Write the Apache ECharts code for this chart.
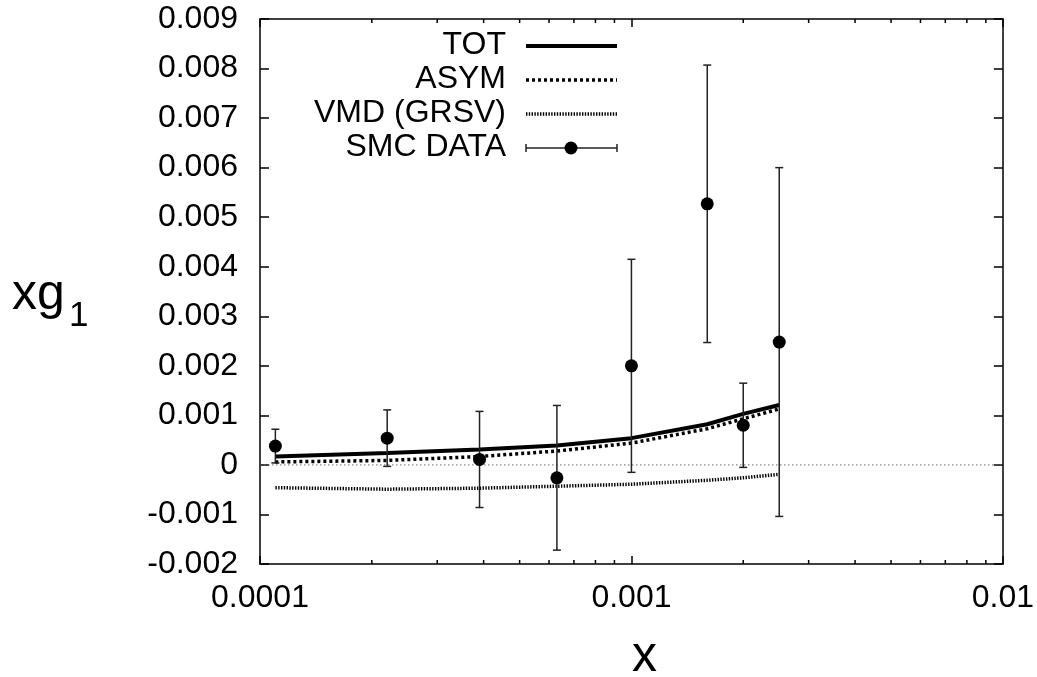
<!DOCTYPE html>
<html>
<head>
<meta charset="utf-8">
<script src="https://cdn.jsdelivr.net/npm/echarts@6/dist/echarts.min.js"></script>
<style>
html,body{margin:0;padding:0;background:#fff;}
#chart{width:1037px;height:677px;}
</style>
</head>
<body>
<div id="chart"></div>
<script>
// ---- data ----
var curveX = [1.1e-4, 2.2e-4, 3.9e-4, 6.3e-4, 1.0e-3, 1.6e-3, 2.0e-3, 2.5e-3];
var totY   = [0.00017, 0.00024, 0.00031, 0.00039, 0.00054, 0.00082, 0.00103, 0.00121];
var asymY  = [0.00006, 0.00009, 0.00017, 0.00028, 0.00044, 0.00073, 0.00093, 0.00113];
var vmdY   = [-0.00046, -0.00049, -0.00047, -0.00043, -0.00039, -0.00031, -0.00026, -0.00019];
var smcX   = [1.1e-4, 2.2e-4, 3.9e-4, 6.3e-4, 1.0e-3, 1.6e-3, 2.0e-3, 2.5e-3];
var smcY   = [0.00038, 0.00054, 0.00011, -0.00026, 0.0020, 0.00527, 0.00080, 0.00248];
var smcErr = [0.00034, 0.00057, 0.00097, 0.00146, 0.00215, 0.0028, 0.00085, 0.00352];
var minorTicks = [2e-4,3e-4,4e-4,5e-4,6e-4,7e-4,8e-4,9e-4,2e-3,3e-3,4e-3,5e-3,6e-3,7e-3,8e-3,9e-3];
var legendNames = ['TOT', 'ASYM', 'VMD (GRSV)', 'SMC DATA'];
var xMin = 1e-4, xMax = 1e-2, yMin = -0.002, yMax = 0.009, yStep = 0.001;

function pairs(xs, ys){ return xs.map(function(x,i){ return [x, ys[i]]; }); }

var FONT = "'Liberation Sans', Arial, sans-serif";
var chart = echarts.init(document.getElementById('chart'), null, {renderer:'canvas'});

var lineStyles = [
  {type:'solid', width:4},
  {type:[3,3], width:3.5},
  {type:[1.4,1.4], width:3.5}
];

var legendY = [45, 79, 113, 147];
var graphics = [];
legendNames.forEach(function(n, i){
  graphics.push({type:'text', right: 1037-506, top: legendY[i]-16,
    style:{text:n, font:'32px '+FONT, fill:'#000', align:'right'}});
});
for (var i=0;i<3;i++){
  graphics.push({type:'line', shape:{x1:526,y1:legendY[i]+1,x2:617,y2:legendY[i]+1},
    style:{stroke:'#000', lineWidth:lineStyles[i].width, lineDash: lineStyles[i].type==='solid'?null:lineStyles[i].type}});
}
graphics.push({type:'line', shape:{x1:526,y1:legendY[3]+1,x2:617,y2:legendY[3]+1}, style:{stroke:'#222',lineWidth:1.5}});
graphics.push({type:'line', shape:{x1:526,y1:legendY[3]-3,x2:526,y2:legendY[3]+5}, style:{stroke:'#222',lineWidth:1.5}});
graphics.push({type:'line', shape:{x1:617,y1:legendY[3]-3,x2:617,y2:legendY[3]+5}, style:{stroke:'#222',lineWidth:1.5}});
graphics.push({type:'circle', shape:{cx:571,cy:legendY[3]+1,r:6.5}, style:{fill:'#000'}});
// axis titles
graphics.push({type:'text', left:12, top:270, style:{text:'xg', font:'50px '+FONT, fill:'#000'}});
graphics.push({type:'text', left:69, top:299, style:{text:'1', font:'35px '+FONT, fill:'#000'}});
graphics.push({type:'text', left:632, top:632, style:{text:'x', font:'50px '+FONT, fill:'#000', align:'center'}});

var axisLineStyle = {color:'#000', width:1.5};

var option = {
  animation:false,
  backgroundColor:'#fff',
  grid:{left:260, right:33, top:19, bottom:113, containLabel:false},
  xAxis:[
    {type:'log', logBase:10, min:xMin, max:xMax, position:'bottom',
     axisLine:{show:true, onZero:false, lineStyle:axisLineStyle},
     axisTick:{show:true, inside:true, length:8, lineStyle:{color:'#000', width:1.5}},
     splitLine:{show:false},
     axisLabel:{color:'#000', fontSize:32, fontFamily:FONT, margin:18,
       formatter:function(v){ return String(+v.toPrecision(1)); }}},
    {type:'log', logBase:10, min:xMin, max:xMax, position:'top',
     axisLine:{show:true, onZero:false, lineStyle:axisLineStyle},
     axisTick:{show:true, inside:true, length:8, lineStyle:{color:'#000', width:1.5}},
     splitLine:{show:false}, axisLabel:{show:false}}
  ],
  yAxis:[
    {type:'value', min:yMin, max:yMax, interval:yStep, position:'left',
     axisLine:{show:true, onZero:false, lineStyle:axisLineStyle},
     axisTick:{show:true, inside:true, length:9, lineStyle:{color:'#000', width:1.5}},
     splitLine:{show:false},
     axisLabel:{color:'#000', fontSize:32, fontFamily:FONT, margin:22,
       formatter:function(v){ var r = Math.round(v*1000)/1000; return r===0 ? '0' : r.toFixed(3); }}},
    {type:'value', min:yMin, max:yMax, interval:yStep, position:'right',
     axisLine:{show:true, onZero:false, lineStyle:axisLineStyle},
     axisTick:{show:true, inside:true, length:9, lineStyle:{color:'#000', width:1.5}},
     splitLine:{show:false}, axisLabel:{show:false}}
  ],
  graphic: graphics,
  series:[
    {type:'custom', name:'minorTicks', xAxisIndex:0, yAxisIndex:0, silent:true,
     data: minorTicks.map(function(x){ return [x]; }),
     renderItem:function(params, api){
       var b = api.coord([api.value(0), yMin]);
       var t = api.coord([api.value(0), yMax]);
       return {type:'group', children:[
         {type:'line', shape:{x1:b[0],y1:b[1],x2:b[0],y2:b[1]-4}, style:{stroke:'#000',lineWidth:1.5}},
         {type:'line', shape:{x1:t[0],y1:t[1],x2:t[0],y2:t[1]+4}, style:{stroke:'#000',lineWidth:1.5}}
       ]};
     }},
    {type:'custom', name:'zeroLine', silent:true, z:1,
     data:[[xMin, 0, xMax]],
     renderItem:function(params, api){
       var a = api.coord([api.value(0), api.value(1)]);
       var b = api.coord([api.value(2), api.value(1)]);
       return {type:'line', shape:{x1:a[0],y1:a[1],x2:b[0],y2:b[1]},
         style:{stroke:'#666', lineWidth:1, lineDash:[1.5,2.5]}};
     }},
    {type:'line', name:'TOT', data:pairs(curveX, totY), showSymbol:false, symbol:'none', z:3,
     lineStyle:{color:'#000', width:lineStyles[0].width, type:'solid'}},
    {type:'line', name:'ASYM', data:pairs(curveX, asymY), showSymbol:false, symbol:'none', z:3,
     lineStyle:{color:'#000', width:lineStyles[1].width, type:lineStyles[1].type}},
    {type:'line', name:'VMD (GRSV)', data:pairs(curveX, vmdY), showSymbol:false, symbol:'none', z:3,
     lineStyle:{color:'#000', width:lineStyles[2].width, type:lineStyles[2].type}},
    {type:'custom', name:'SMC err', silent:true, z:4,
     data: smcX.map(function(x,i){ return [x, smcY[i]-smcErr[i], smcY[i]+smcErr[i]]; }),
     renderItem:function(params, api){
       var lo = api.coord([api.value(0), api.value(1)]);
       var hi = api.coord([api.value(0), api.value(2)]);
       var s = {stroke:'#222', lineWidth:1.5};
       return {type:'group', children:[
         {type:'line', shape:{x1:lo[0],y1:lo[1],x2:hi[0],y2:hi[1]}, style:s},
         {type:'line', shape:{x1:lo[0]-4,y1:lo[1],x2:lo[0]+4,y2:lo[1]}, style:s},
         {type:'line', shape:{x1:hi[0]-4,y1:hi[1],x2:hi[0]+4,y2:hi[1]}, style:s}
       ]};
     }},
    {type:'scatter', name:'SMC DATA', data:pairs(smcX, smcY), symbol:'circle', symbolSize:13, z:5,
     itemStyle:{color:'#000', opacity:1}}
  ]
};
chart.setOption(option);
</script>
</body>
</html>
